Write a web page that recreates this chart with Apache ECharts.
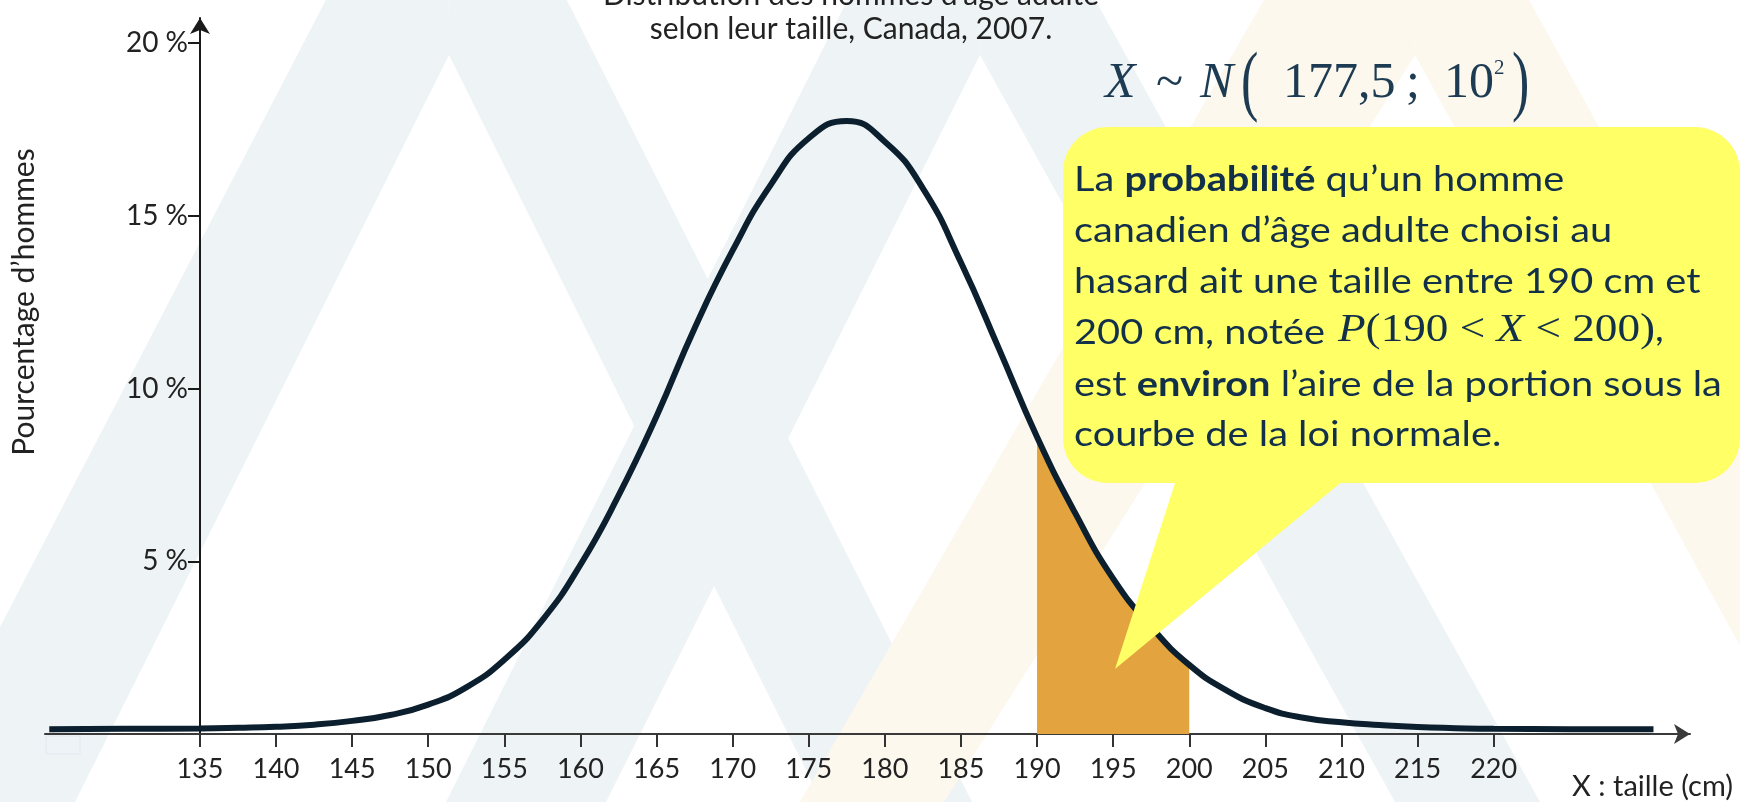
<!DOCTYPE html>
<html>
<head>
<meta charset="utf-8">
<script src="https://cdn.jsdelivr.net/npm/echarts@6/dist/echarts.min.js"></script>
<style>
  html, body { margin: 0; padding: 0; background: #fff; }
  #chart { width: 1740px; height: 802px; }
</style>
</head>
<body>
<div id="chart"></div>
<script>
// taille (cm) et pourcentage d'hommes
const tailles = [125.1, 130, 135, 137.5, 140, 142.5, 145, 147.5, 150, 152.5, 155, 157.5, 160, 162.5, 165, 167.5, 170, 172.5, 175, 177.5,
                 180, 182.5, 185, 187.5, 190, 192.5, 195, 197.5, 200, 202.5, 205, 207.5, 210, 212.5, 215, 217.5, 220, 225, 230.5];
const pourcentages = [0.14, 0.15, 0.16, 0.18, 0.21, 0.27, 0.38, 0.55, 0.85, 1.35, 2.15, 3.3, 4.9, 6.9, 9.2, 11.75, 14.0, 15.9, 17.25, 17.75,
                      17.15, 15.8, 13.65, 11.15, 8.6, 6.4, 4.5, 3.1, 2.0, 1.25, 0.75, 0.47, 0.34, 0.26, 0.2, 0.17, 0.15, 0.14, 0.14];

// portion colorée entre 190 et 200 cm
const zoneTailles = [190, 192.5, 195, 197.5, 200];
const zonePourcentages = [8.5, 6.35, 4.45, 3.05, 1.95];

const xTicks = [135, 140, 145, 150, 155, 160, 165, 170, 175, 180, 185, 190, 195, 200, 205, 210, 215, 220];
const yTicks = [5, 10, 15, 20];

const navy = '#12304a';
const bleuFormule = '#1d3b53';
const gris = '#eef3f6', creme = '#fdf8ee';

function jambe(pts, couleur) {
    return { type: 'polygon', z: -10, silent: true, shape: { points: pts }, style: { fill: couleur } };
}
function texte(x, y, txt, opts) {
    return Object.assign({
        type: 'text', x: x, y: y, z: 101, silent: true,
        style: Object.assign({
            text: txt, fill: '#222', fontFamily: 'Lato', fontSize: 30,
            align: 'left', verticalAlign: 'middle', textAlign: 'left', textVerticalAlign: 'middle'
        }, opts.style || {})
    }, opts.el || {});
}

const serif = 'Liberation Serif';
const richBulle = {
    n: { fontFamily: 'Lato', fontSize: 34, fill: navy, color: navy },
    b: { fontFamily: 'Lato', fontSize: 34, fontWeight: 'bold', fill: navy, color: navy }
};
const richMath = {
    r: { fontFamily: serif, fontSize: 40, fill: navy, color: navy },
    i: { fontFamily: serif, fontSize: 40, fontStyle: 'italic', fill: navy, color: navy },
    c: { fontFamily: 'Lato', fontSize: 34, fill: navy, color: navy }
};

const lignesBulle = [
    '{n|La }{b|probabilité}{n| qu’un homme}',
    '{n|canadien d’âge adulte choisi au}',
    '{n|hasard ait une taille entre 190 cm et}',
    '{n|200 cm, notée}',
    '{n|est }{b|environ}{n| l’aire de la portion sous la}',
    '{n|courbe de la loi normale.}'
];
const yLignes = [180, 231, 282, 333, 385, 435];

function formule(x, y, txt, taille, italique, extra) {
    return texte(x, y, txt, {
        style: { fontFamily: serif, fontSize: taille, fontStyle: italique ? 'italic' : 'normal', fill: bleuFormule },
        el: extra || {}
    });
}

const graphics = [
    // motif de fond
    jambe([[448, -235], [449, 55], [75, 802], [-91, 802]], gris),
    jambe([[448, -235], [449, 55], [822, 802], [972, 802]], gris),
    jambe([[965, -235], [980, 55], [606, 802], [446, 802]], gris),
    jambe([[965, -235], [980, 55], [1395, 802], [1540, 802]], gris),
    jambe([[1400, -235], [1415, 55], [944, 802], [800, 802]], creme),
    jambe([[1400, -235], [1415, 55], [1826, 802], [1970, 802]], creme),
    { type: 'rect', z: -9, silent: true, shape: { x: 46, y: 736, width: 34, height: 18 }, style: { fill: '#eef3f8', stroke: '#e2e8ef' } },

    // titre
    texte(851, -5, 'Distribution des hommes d’âge adulte', { style: { align: 'center', textAlign: 'center' } }),
    texte(851, 29, 'selon leur taille, Canada, 2007.', { style: { align: 'center', textAlign: 'center' } }),

    // noms des axes
    texte(24, 302, 'Pourcentage d’hommes', { style: { align: 'center', textAlign: 'center', fontSize: 30 }, el: { rotation: Math.PI / 2 } }),
    texte(1733, 787, 'X : taille (cm)', { style: { align: 'right', textAlign: 'right', fontSize: 29 } }),

    // bulle
    { type: 'rect', z: 100, silent: true, shape: { x: 1063, y: 127, width: 677, height: 356, r: 45 }, style: { fill: '#ffff66' } },
    { type: 'polygon', z: 100, silent: true, shape: { points: [[1176, 480], [1344, 480], [1115, 669]] }, style: { fill: '#ffff66' } },

    // X ~ N(177,5 ; 10²)
    formule(1105, 84, 'X', 50, true),
    formule(1156, 84, '~', 50, false),
    formule(1200, 84, 'N', 50, true),
    formule(1241, 86, '(', 52, false, { scaleY: 1.5 }),
    formule(1283, 84, '177,5', 50, false),
    formule(1406, 84, ';', 50, false),
    formule(1444, 84, '10', 50, false),
    formule(1494, 68, '2', 21, false),
    formule(1512, 86, ')', 52, false, { scaleY: 1.5 }),

    // P(190 < X < 200),
    texte(1338, 330, '{i|P}{r|(190 < }{i|X}{r| < 200)}{c|,}', { style: { rich: richMath }, el: { scaleX: 1.13 } })
];
lignesBulle.forEach(function (l, i) {
    graphics.push(texte(1074, yLignes[i], l, { style: { rich: richBulle }, el: { scaleX: 1.17 } }));
});

const courbe = tailles.map(function (t, i) { return [t, pourcentages[i]]; });
const zone = zoneTailles.map(function (t, i) { return [t, zonePourcentages[i]]; });

const chart = echarts.init(document.getElementById('chart'));
chart.setOption({
    animation: false,
    backgroundColor: '#fff',
    grid: { left: 45, right: 50, top: 18, bottom: 68, outerBoundsMode: 'none' },
    xAxis: {
        type: 'value',
        min: 124.82,
        max: 232.9,
        axisLine: { lineStyle: { color: '#3a3a3a', width: 2 }, symbol: ['none', 'arrow'], symbolSize: [15, 16] },
        axisTick: { customValues: xTicks, length: 13, lineStyle: { color: '#333', width: 2 } },
        axisLabel: { customValues: xTicks, margin: 22, fontFamily: 'Lato', fontSize: 27, color: '#222' },
        splitLine: { show: false }
    },
    yAxis: {
        type: 'value',
        min: 0,
        max: 20.73,
        offset: -155,
        axisLine: { show: true, onZero: false, lineStyle: { color: '#1a1a1a', width: 2 }, symbol: ['none', 'arrow'], symbolSize: [15, 16] },
        axisTick: { show: true, customValues: yTicks, length: 12, lineStyle: { color: '#1a1a1a', width: 2 } },
        axisLabel: { customValues: yTicks, formatter: '{value} %', margin: 12, fontFamily: 'Lato', fontSize: 28, color: '#222' },
        splitLine: { show: false }
    },
    series: [
        {
            type: 'line',
            data: zone,
            smooth: true,
            symbol: 'none',
            lineStyle: { width: 0 },
            areaStyle: { color: '#e3a33f', opacity: 1 },
            z: 2
        },
        {
            type: 'line',
            data: courbe,
            smooth: true,
            symbol: 'none',
            lineStyle: { color: '#0b1f2e', width: 6 },
            z: 3
        }
    ],
    graphic: graphics
});
</script>
</body>
</html>
